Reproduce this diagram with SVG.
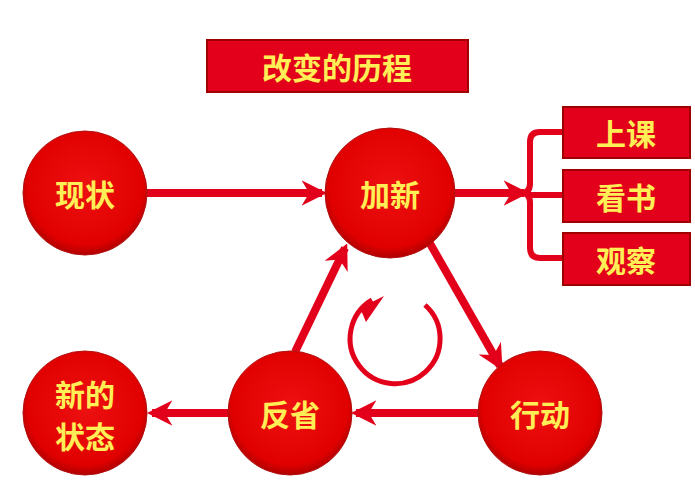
<svg xmlns="http://www.w3.org/2000/svg" width="695" height="488" viewBox="0 0 695 488">
<defs>
<radialGradient id="g" cx="50%" cy="45%" r="55%"><stop offset="0" stop-color="#ee1111"/><stop offset="0.85" stop-color="#e00000"/><stop offset="1" stop-color="#b00000"/></radialGradient>
<marker id="ah" viewBox="0 0 10 10" refX="8" refY="5" markerWidth="3.2" markerHeight="3.2" orient="auto"><path d="M0,0 L10,5 L0,10 L3,5 Z" fill="#e3001b"/></marker>
</defs>
<style>
.c{fill:url(#g);stroke:#b01010;stroke-width:1}
.t{font-family:"Noto Sans CJK SC",sans-serif;font-weight:bold;font-size:30px;fill:#ffee55;text-anchor:middle;dominant-baseline:central}
.b{fill:#e3001b;stroke:#a00000;stroke-width:2}
.a{stroke:#e3001b;stroke-width:8;fill:none;marker-end:url(#ah)}
</style>
<rect width="695" height="488" fill="#fff"/>
<g id="title"><rect class="b" x="207" y="40" width="261" height="52"/><text class="t" x="337" y="66" font-size="32">改变的历程</text></g>
<g id="connectors">
<line class="a" x1="147" y1="193" x2="322" y2="193"/>
<line class="a" x1="455" y1="193" x2="524" y2="193"/>
<line class="a" x1="428" y1="240" x2="500" y2="366"/>
<line class="a" x1="295" y1="352" x2="345" y2="248"/>
<line class="a" x1="478" y1="413" x2="356" y2="413"/>
<line class="a" x1="228" y1="413" x2="152" y2="413"/>
<path d="M548,132 H540 Q530,132 530,142 V183 Q530,193 522,193 Q530,193 530,203 V248 Q530,258 540,258 H563 M530,195 H563 M540,132 H563" stroke="#e3001b" stroke-width="6" fill="none"/>
<path d="M372,300 A45,45 0 1 0 425,305" stroke="#e3001b" stroke-width="5" fill="none"/>
<path d="M360,308 L384,296 L366,322 Z" fill="#e3001b"/>
</g>
<g id="n1"><circle class="c" cx="85" cy="193" r="62"/><text class="t" x="85" y="193">现状</text></g>
<g id="n2"><circle class="c" cx="390" cy="193" r="65"/><text class="t" x="390" y="193">加新</text></g>
<g id="n3"><circle class="c" cx="290" cy="413" r="62"/><text class="t" x="290" y="413">反省</text></g>
<g id="n4"><circle class="c" cx="540" cy="413" r="62"/><text class="t" x="540" y="413">行动</text></g>
<g id="n5"><circle class="c" cx="85" cy="413" r="62"/><text class="t" x="85" y="393">新的</text><text class="t" x="85" y="435">状态</text></g>
<g id="r1"><rect class="b" x="563" y="107" width="127" height="51"/><text class="t" x="626" y="132">上课</text></g>
<g id="r2"><rect class="b" x="563" y="170" width="127" height="52"/><text class="t" x="626" y="196">看书</text></g>
<g id="r3"><rect class="b" x="563" y="233" width="127" height="52"/><text class="t" x="626" y="259">观察</text></g>
</svg>
